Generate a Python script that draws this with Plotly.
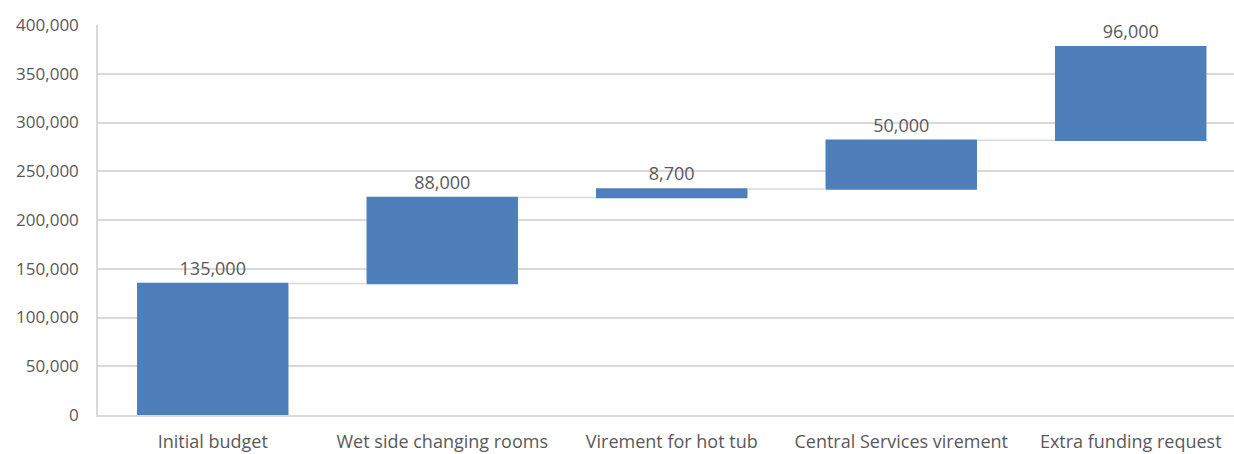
import plotly.graph_objects as go

categories = ["Initial budget", "Wet side changing rooms", "Virement for hot tub",
              "Central Services virement", "Extra funding request"]
values = [135000, 88000, 8700, 50000, 96000]
labels = [f"{v:,}" for v in values]
yticks = [0, 50000, 100000, 150000, 200000, 250000, 300000, 350000, 400000]

font_family = "Open Sans, Noto Sans, sans-serif"
txt = "#595959"
grid = "#D9D9D9"
bar_col = "#4E7FBB"

fig = go.Figure(go.Waterfall(
    x=categories,
    y=values,
    measure=["relative"] * len(values),
    text=labels,
    textposition="outside",
    textfont=dict(family=font_family, size=18, color=txt),
    cliponaxis=False,
    width=[0.66] * len(values),
    increasing=dict(marker=dict(color=bar_col, line=dict(color=bar_col, width=0))),
    decreasing=dict(marker=dict(color=bar_col)),
    totals=dict(marker=dict(color=bar_col)),
    connector=dict(line=dict(color=grid, width=1.5), mode="between"),
    hoverinfo="skip",
))

fig.update_layout(
    width=1234, height=454,
    margin=dict(l=98, r=0, t=25, b=39),
    paper_bgcolor="white", plot_bgcolor="white",
    showlegend=False,
    font=dict(family=font_family, size=17, color=txt),
    xaxis=dict(
        range=[-0.5, 4.45],
        showgrid=False,
        showline=True, linecolor=grid, linewidth=1.5,
        ticks="", ticklabelstandoff=10,
        tickfont=dict(family=font_family, size=18, color=txt),
        fixedrange=True,
    ),
    yaxis=dict(
        range=[0, 400000],
        tickvals=yticks,
        ticktext=[f"{v:,}" for v in yticks],
        showgrid=True, gridcolor=grid, gridwidth=1.5,
        showline=True, linecolor=grid, linewidth=1.5,
        zeroline=False,
        ticks="", ticklabelstandoff=14,
        tickfont=dict(family=font_family, size=17, color=txt),
        fixedrange=True,
    ),
)

fig.write_html("out.html")
